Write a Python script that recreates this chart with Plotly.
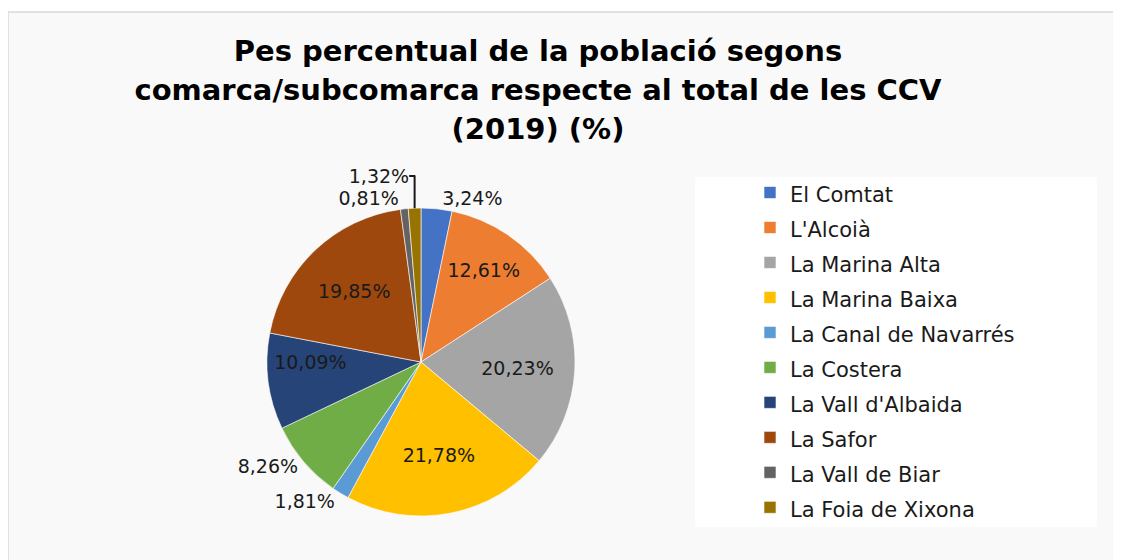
import plotly.graph_objects as go

comarques = ["El Comtat", "L'Alcoià", "La Marina Alta", "La Marina Baixa",
             "La Canal de Navarrés", "La Costera", "La Vall d'Albaida",
             "La Safor", "La Vall de Biar", "La Foia de Xixona"]
pes = [3.24, 12.61, 20.23, 21.78, 1.81, 8.26, 10.09, 19.85, 0.81, 1.32]
colors = ["#4472C4", "#ED7D31", "#A5A5A5", "#FFC000", "#5B9BD5",
          "#70AD47", "#264478", "#9E480E", "#636363", "#997300"]
text_pos = ["outside", "inside", "inside", "inside", "outside",
            "outside", "inside", "inside", "outside", "outside"]

title_lines = ["Pes percentual de la població segons",
               "comarca/subcomarca respecte al total de les CCV",
               "(2019) (%)"]

# the page body keeps its 8px margin, so the figure is drawn 8px in
OFF = 8
W, H = 1121 - OFF, 560 - OFF
FONT = "DejaVu Sans"


def px(x):
    return (x - OFF) / W


def py(y):
    return 1 - (y - OFF) / H


# pie centre / radius in window pixels
cx, cy, r = 421, 362, 154

# legend labels wrapped so the row height follows the bigger legend font
legend_labels = ['<span style="font-size:21px">%s</span>' % c for c in comarques]

fig = go.Figure()
fig.add_trace(go.Pie(
    labels=legend_labels,
    values=pes,
    sort=False,
    direction="clockwise",
    rotation=0,
    marker=dict(colors=colors, line=dict(color="white", width=0.6)),
    texttemplate="%{value:.2f}%",
    textposition=text_pos,
    insidetextorientation="horizontal",
    textfont=dict(family=FONT, size=19, color="#1a1a1a"),
    domain=dict(x=[px(cx - r), px(cx + r)], y=[py(cy + r), py(cy - r)]),
    hoverinfo="text+percent",
    hovertext=comarques,
    showlegend=True,
))

title_html = "<br>".join('<span style="font-size:29px">%s</span>' % t for t in title_lines)

fig.update_layout(
    width=W, height=H,
    margin=dict(l=0, r=0, t=0, b=0),
    paper_bgcolor="white",
    separators=",.",
    font=dict(family=FONT, color="#1a1a1a"),
    title=dict(text="<b>" + title_html + "</b>", x=px(538), xanchor="center",
               y=py(61), yanchor="top",
               font=dict(family=FONT, size=30, color="#000000")),
    legend=dict(x=px(750), xanchor="left", y=py(170), yanchor="top",
                bgcolor="rgba(0,0,0,0)", font=dict(family=FONT, size=24.6, color="#1a1a1a"),
                traceorder="normal"),
    shapes=[
        dict(type="rect", xref="paper", yref="paper", x0=px(8), x1=1.01,
             y0=-0.01, y1=py(12), fillcolor="#f9f9f9",
             line=dict(color="#d9d9d9", width=1.5), layer="below"),
        dict(type="rect", xref="paper", yref="paper", x0=px(695), x1=px(1097),
             y0=py(527), y1=py(177), fillcolor="white",
             line=dict(width=0), layer="below"),
    ],
)

fig.write_html("out.html")
